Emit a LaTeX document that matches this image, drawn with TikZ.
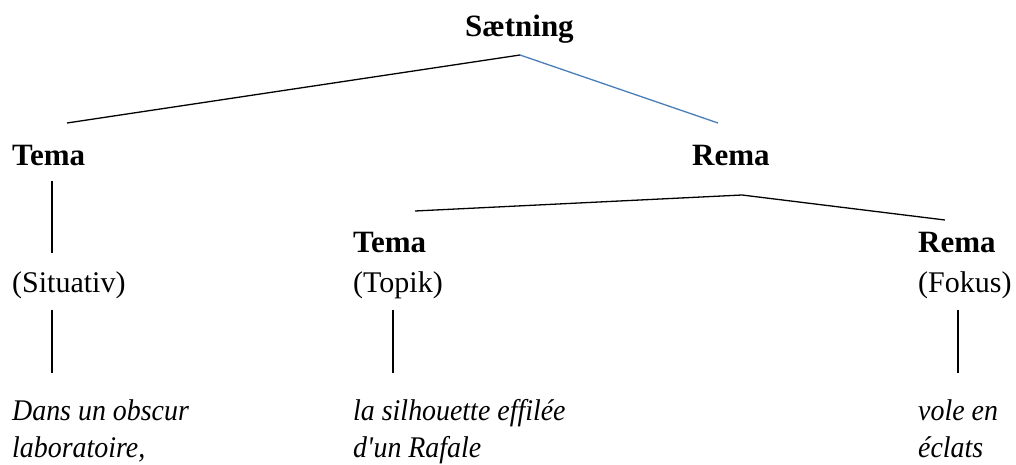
\documentclass[tikz,border=0pt]{standalone}
\usepackage{fontspec}
\setmainfont{Liberation Serif}
\newfontfamily\exfont[FakeStretch=0.93]{Liberation Serif}
\definecolor{linkblue}{HTML}{4A7EBB}
\begin{document}
\begin{tikzpicture}[x=1pt,y=-1pt,
  lbl/.style={anchor=base west,inner sep=0pt,font=\fontsize{30}{37}\selectfont},
  head/.style={anchor=base west,inner sep=0pt,font=\fontsize{31}{37}\selectfont\bfseries},
  ex/.style={anchor=base west,inner sep=0pt,font=\fontsize{30}{37}\exfont\itshape},
  edge/.style={line width=1.3pt,black},
  blueedge/.style={line width=1.3pt,linkblue},
]
\useasboundingbox (0,0) rectangle (1016,465);

% headings
\node[head] (root)  at (465,37)  {Sætning};
\node[head] (temaA) at (12,165)  {Tema};
\node[head] (remaA) at (692,165) {Rema};
\node[head] (temaB) at (353,252) {Tema};
\node[head] (remaB) at (918,252) {Rema};

% role labels
\node[lbl] (sit) at (12,292)  {(Situativ)};
\node[lbl] (top) at (353,292) {(Topik)};
\node[lbl] (fok) at (918,292) {(Fokus)};

% example words, one node per line
\node[ex] (dansA) at (12,420)  {Dans un obscur};
\node[ex] (dansB) at (12,457)  {laboratoire,};
\node[ex] (silA)  at (353,420) {la silhouette effilée};
\node[ex] (silB)  at (353,457) {d\textquotesingle un Rafale};
\node[ex] (voleA) at (918,420) {vole en};
\node[ex] (voleB) at (918,457) {éclats};

% branch points
\coordinate (rootTop) at (520,55);
\coordinate (temaAend) at (67,123);
\coordinate (remaAend) at (718,123);
\coordinate (remaTop) at (742,195);
\coordinate (temaBend) at (415,211);
\coordinate (remaBend) at (945,220);

\draw[edge] (temaAend) -- (rootTop);
\draw[blueedge] (rootTop) -- (remaAend);
\draw[edge] (temaBend) -- (remaTop) -- (remaBend);

% vertical stems
\draw[edge] (temaA.south west) ++(40,15) coordinate (a1) -- ++(0,72);
\draw[edge] (sit.south west) ++(40,11) coordinate (a2) -- ++(0,63);
\draw[edge] (top.south west) ++(40,11) coordinate (a3) -- ++(0,63);
\draw[edge] (fok.south west) ++(40,11) coordinate (a4) -- ++(0,63);
\end{tikzpicture}
\end{document}
